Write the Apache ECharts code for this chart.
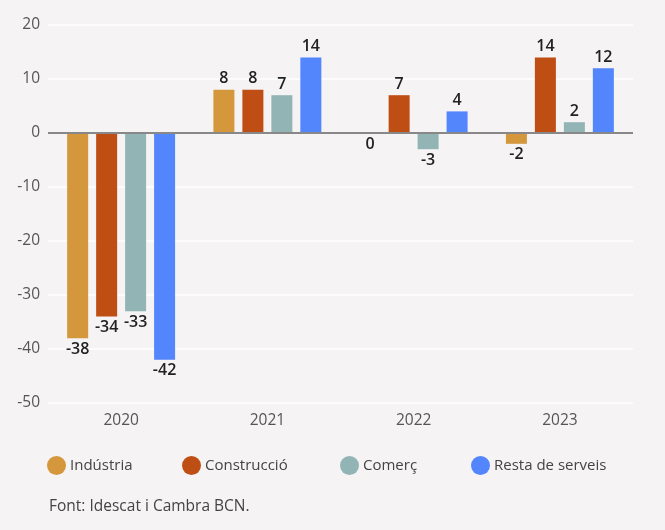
<!DOCTYPE html>
<html><head><meta charset="utf-8">
<script src="https://cdn.jsdelivr.net/npm/echarts@6/dist/echarts.min.js"></script>
<style>html,body{margin:0;padding:0;background:#f5f3f4}#c{width:665px;height:530px}</style>
</head><body><div id="c"></div>
<script>
const years = ['2020','2021','2022','2023'];
const seriesNames = ['Indústria','Construcció','Comerç','Resta de serveis'];
const industria = [-38, 8, 0, -2];
const construccio = [-34, 8, 7, 14];
const comerc = [-33, 7, -3, 2];
const restaServeis = [-42, 14, 4, 12];
const yTicks = [20, 10, 0, -10, -20, -30, -40, -50];
const colors = ['#d4973c', '#bf4e14', '#93b4b5', '#5385fc'];
const source = 'Font: Idescat i Cambra BCN.';

const font = '"Open Sans", Lato, sans-serif';
const allValues = [industria, construccio, comerc, restaServeis];

function mkData(vals) {
  return vals.map(v => {
    // zero value of Indústria 2022 has its label below the axis in the reference
    const pos = (v <= 0) ? 'bottom' : 'top';
    return { value: v, label: { position: pos } };
  });
}

const series = seriesNames.map((n, k) => ({
  name: n,
  type: 'bar',
  data: mkData(allValues[k]),
  itemStyle: { color: colors[k] },
  barWidth: 21,
  barGap: '38%',
  label: {
    show: true,
    color: '#222',
    fontFamily: font,
    fontWeight: 600,
    fontSize: 16,
    distance: 3
  }
}));

const legendLefts = [47, 182, 340, 471];
const legends = seriesNames.map((n, k) => ({
  data: [n],
  left: legendLefts[k],
  top: 456,
  icon: 'circle',
  itemWidth: 19,
  itemHeight: 19,
  itemGap: 6,
  padding: 0,
  textStyle: { fontFamily: font, fontSize: 15, color: '#444', padding: [0, 0, 0, -1] }
}));

const chart = echarts.init(document.getElementById('c'));
chart.setOption({
  backgroundColor: '#f5f3f4',
  color: colors,
  animation: false,
  grid: { left: 48, right: 32, top: 25, bottom: 127, containLabel: false },
  xAxis: {
    type: 'category',
    data: years,
    axisLine: { show: false },
    axisTick: { show: false },
    axisLabel: { fontFamily: font, fontSize: 15.5, color: '#555', margin: 10 }
  },
  yAxis: {
    type: 'value',
    min: -50, max: 20, interval: 10,
    axisLine: { show: false },
    axisTick: { show: false },
    splitLine: { lineStyle: { color: '#ffffff', width: 1.5 } },
    axisLabel: { fontFamily: font, fontSize: 15.5, color: '#555', margin: 8,
      formatter: v => String(v) }
  },
  legend: legends,
  graphic: [{
    type: 'text', left: 49, top: 499,
    style: { text: source, fontFamily: font, fontSize: 15.5, fill: '#444' }
  }],
  series: series.concat([{
    type: 'line',
    data: years.map(() => 0),
    symbol: 'none',
    silent: true,
    lineStyle: { opacity: 0 },
    markLine: {
      symbol: 'none', silent: true, label: { show: false },
      lineStyle: { color: '#888', width: 2, type: 'solid' },
      data: [{ yAxis: 0 }]
    },
    z: 5
  }])
});
</script></body></html>
